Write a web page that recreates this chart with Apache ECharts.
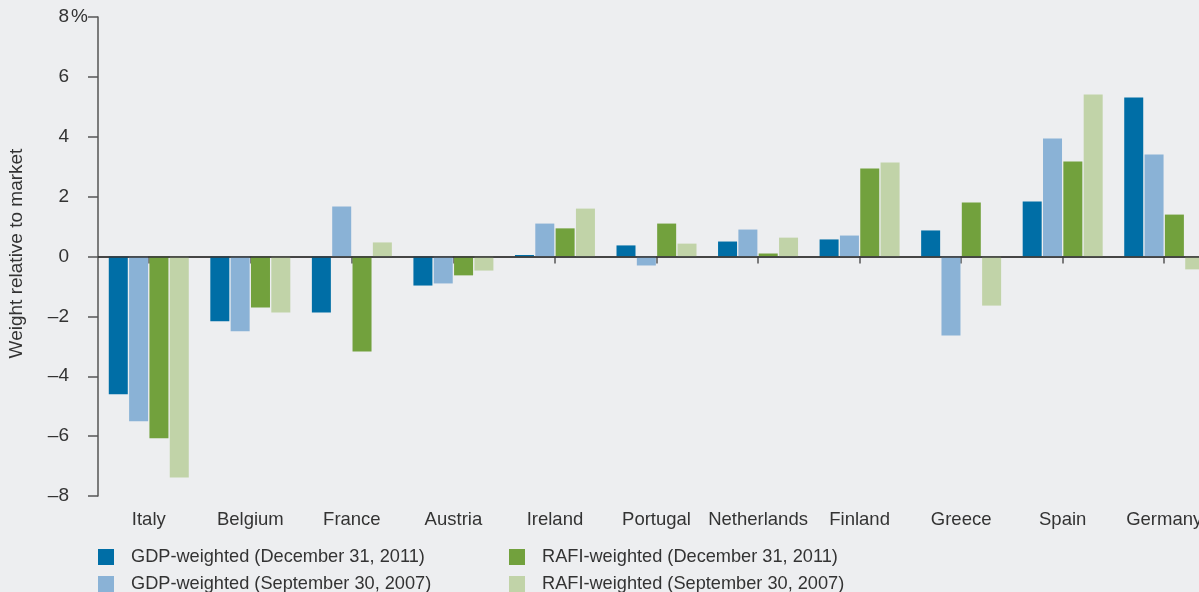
<!DOCTYPE html>
<html>
<head>
<meta charset="utf-8">
<script src="https://cdn.jsdelivr.net/npm/echarts@6/dist/echarts.min.js"></script>
<style>
html,body{margin:0;padding:0;background:#edeef0;}
#chart{width:1199px;height:592px;}
</style>
</head>
<body>
<div id="chart"></div>
<script>
const categories = ['Italy','Belgium','France','Austria','Ireland','Portugal','Netherlands','Finland','Greece','Spain','Germany'];
const seriesNames = ['GDP-weighted (December 31, 2011)','GDP-weighted (September 30, 2007)','RAFI-weighted (December 31, 2011)','RAFI-weighted (September 30, 2007)'];
const gdpDec2011  = [-4.6, -2.16, -1.87, -0.97, 0.05, 0.37, 0.5, 0.57, 0.87, 1.84, 5.31];
const gdpSep2007  = [-5.5, -2.5, 1.67, -0.9, 1.1, -0.3, 0.9, 0.7, -2.64, 3.94, 3.41];
const rafiDec2011 = [-6.07, -1.7, -3.17, -0.63, 0.94, 1.1, 0.1, 2.94, 1.8, 3.17, 1.4];
const rafiSep2007 = [-7.38, -1.87, 0.47, -0.47, 1.6, 0.43, 0.63, 3.14, -1.64, 5.41, -0.43];
const yTicks = [-8, -6, -4, -2, 0, 2, 4, 6, 8];
const colors = ['#006ea6','#8ab2d6','#72a13d','#c1d3a8'];

const chart = echarts.init(document.getElementById('chart'));
const font = 'Liberation Sans, Arial, sans-serif';
const data = [gdpDec2011, gdpSep2007, rafiDec2011, rafiSep2007];
const series = data.map((d, i) => ({
  name: seriesNames[i],
  type: 'bar',
  data: d,
  barWidth: 19,
  barGap: '7%',
  itemStyle: {color: colors[i]},
  animation: false,
  markLine: i === 0 ? {
    silent: true, symbol: 'none', label: {show: false},
    lineStyle: {color: '#333', width: 1.5, type: 'solid'},
    data: [{yAxis: 0}]
  } : undefined
}));

const legendPos = [[98, 548], [98, 575], [509, 548], [509, 575]];
const legends = seriesNames.map((n, i) => ({
  data: [n], left: legendPos[i][0], top: legendPos[i][1], padding: 0,
  itemWidth: 16, itemHeight: 16, icon: 'rect',
  textStyle: {color: '#333', fontSize: 18.2, fontFamily: font, padding: [0,0,0,12], lineHeight: 16}
}));

chart.setOption({
  backgroundColor: '#edeef0',
  animation: false,
  grid: {left: 98, width: 1117, top: 17, bottom: 96, containLabel: false, outerBoundsMode: 'none'},
  xAxis: {
    type: 'category', data: categories,
    axisLine: {show: true, lineStyle: {color: '#555', width: 1.5}},
    axisTick: {show: true, alignWithLabel: true, length: 7, lineStyle: {color: '#555', width: 1.5}},
    axisLabel: {color: '#333', fontSize: 18.5, fontFamily: font, margin: 14, interval: 0}
  },
  yAxis: {
    type: 'value', min: yTicks[0], max: yTicks[yTicks.length-1], interval: 2,
    name: 'Weight relative to market', nameLocation: 'middle', nameGap: 72, nameRotate: 90,
    nameTextStyle: {color: '#333', fontSize: 19, fontFamily: font, padding: [0, 0, 0, 6]},
    axisLine: {show: true, lineStyle: {color: '#555', width: 1.5}},
    axisTick: {show: true, length: 10, lineStyle: {color: '#555', width: 1.5}},
    splitLine: {show: false},
    axisLabel: {
      color: '#333', fontSize: 19, fontFamily: font, margin: 10,
      formatter: v => {
        const s = (v < 0 ? '\u2013' + Math.abs(v) : String(v));
        return '{n|' + s + '}{p|' + (v === yTicks[yTicks.length-1] ? '%' : ' ') + '}';
      },
      rich: {
        n: {fontSize: 19, fontFamily: font, color: '#333'},
        p: {fontSize: 19, fontFamily: font, color: '#333', width: 19, align: 'right'}
      }
    }
  },
  legend: legends,
  series: series
});
</script>
</body>
</html>
